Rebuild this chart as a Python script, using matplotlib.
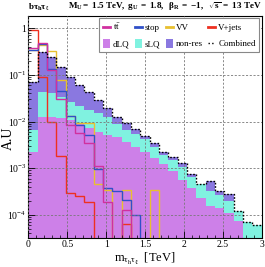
import numpy as np
import matplotlib
matplotlib.use("Agg")
import matplotlib.pyplot as plt
from matplotlib.lines import Line2D
from matplotlib.patches import Patch
from matplotlib.ticker import FixedLocator, FuncFormatter, LogLocator, MultipleLocator, NullFormatter

plt.rcParams['font.family'] = ['Liberation Serif', 'DejaVu Serif']
plt.rcParams['mathtext.fontset'] = 'custom'
plt.rcParams['mathtext.rm'] = 'Liberation Serif'
plt.rcParams['mathtext.it'] = 'Liberation Serif:italic'
plt.rcParams['mathtext.bf'] = 'Liberation Serif:bold'

# ---- data (25 bins, 0-3 TeV) ----
bin_edges = np.linspace(0.0, 3.0, 26)

dLQ = [2.28e-3, 1.26e-2, 1.26e-2, 1.20e-2, 1.09e-2, 8.9e-3, 7.3e-3, 6.1e-3, 5.2e-3, 4.7e-3,
       3.7e-3, 2.9e-3, 2.24e-3, 1.67e-3, 1.24e-3, 8.8e-4, 5.6e-4, 3.8e-4, 2.3e-4, 1.57e-4,
       1.42e-4, 1.11e-4, 7.5e-5, 0, 0]
sLQ = [4.32e-3, 3.07e-2, 2.86e-2, 2.18e-2, 1.59e-2, 1.28e-2, 1.05e-2, 9.0e-3, 7.4e-3, 4.2e-3,
       2.9e-3, 2.6e-3, 2.06e-3, 1.20e-3, 7.0e-4, 6.3e-4, 5.1e-4, 2.8e-4, 2.33e-4, 1.76e-4,
       1.27e-4, 8.3e-5, 4.7e-5, 7.2e-5, 6.1e-5]
nonres = [6.53e-2, 0.268, 0.202, 0.117, 6.52e-2, 3.93e-2, 2.55e-2, 1.41e-2, 7.1e-3, 3.7e-3,
          2.8e-3, 1.3e-3, 6.4e-4, 5.8e-4, 3.4e-4, 2.0e-4, 2.2e-4, 1.0e-4, 0, 2.13e-4,
          6.4e-5, 8.5e-5, 0, 0, 0]

ttbar = [0.37, 0.48, 0.128, 0.03, 8.5e-3, 5.6e-3, 3.5e-3, 1.1e-3, 1.9e-4, 0,
         1.3e-4, 0, 0, 0, 0, 0, 0, 0, 0, 0, 0, 0, 0, 0, 0]
stop = [0.35, 0.46, 0.135, 0.046, 0.013, 8.5e-3, 5.2e-3, 9.5e-4, 3.8e-4, 3.2e-4,
        2.1e-4, 1.0e-4, 0, 0, 0, 0, 0, 0, 0, 0, 0, 0, 0, 0, 0]
VV = [0.34, 0.44, 0.32, 0.078, 0.0129, 9.3e-3, 9.3e-3, 4.6e-4, 3.5e-4, 0,
      3.5e-4, 0, 0, 3.5e-4, 0, 0, 0, 0, 0, 0, 0, 0, 0, 0, 0]
Vjets = [0.92, 0.092, 0.01, 1.8e-3, 3.0e-4, 2.6e-4, 1.86e-4, 0, 0, 0,
         6.3e-5, 0, 0, 0, 0, 0, 0, 0, 0, 0, 0, 0, 0, 0, 0]

x_ticks = [0, 0.5, 1, 1.5, 2, 2.5, 3]
x_ticklabels = ['0', '0.5', '1', '1.5', '2', '2.5', '3']

# ---- colours ----
c_dlq = '#cd80e8'
c_slq = '#80f2e0'
c_nr = '#8a78e0'
c_tt = '#d0309f'
c_stop = '#3050c8'
c_vv = '#e8c030'
c_vj = '#ee3020'

fig = plt.figure(figsize=(2.65, 2.67), dpi=100)
ax = fig.add_axes([0.1075, 0.1086, 0.8793, 0.8314])

tiny = 1e-9
c1 = np.array(dLQ)
c2 = c1 + np.array(sLQ)
c3 = c2 + np.array(nonres)
pos = lambda a: np.maximum(np.asarray(a, dtype=float), tiny)

ax.stairs(pos(c1), bin_edges, baseline=tiny, fill=True, color=c_dlq, lw=0, zorder=1)
ax.stairs(pos(c2), bin_edges, baseline=pos(c1), fill=True, color=c_slq, lw=0, zorder=1)
ax.stairs(pos(c3), bin_edges, baseline=pos(c2), fill=True, color=c_nr, lw=0, zorder=1)

for vals, col in [(Vjets, c_vj), (VV, c_vv), (stop, c_stop), (ttbar, c_tt)]:
    ax.stairs(pos(vals), bin_edges, baseline=None, color=col, lw=1.0, zorder=2)

ax.stairs(pos(c3), bin_edges, baseline=None, color='black', lw=1.0,
          linestyle=(0, (1.2, 1.2)), zorder=3)

ax.set_yscale('log')
ax.set_xlim(0, 3)
ax.set_ylim(3.2e-5, 1.83)

ax.xaxis.set_major_locator(FixedLocator(x_ticks))
ax.set_xticklabels(x_ticklabels)
ax.xaxis.set_minor_locator(MultipleLocator(0.1))
ax.yaxis.set_major_locator(FixedLocator([1e-4, 1e-3, 1e-2, 1e-1, 1]))
ax.yaxis.set_minor_locator(LogLocator(base=10, subs=np.arange(2, 10)))
ax.yaxis.set_minor_formatter(NullFormatter())

def yfmt(v, p):
    e = int(round(np.log10(v)))
    return '1' if e == 0 else r'$10^{%d}$' % e
ax.yaxis.set_major_formatter(FuncFormatter(yfmt))

ax.tick_params(which='both', direction='in', labelsize=7, pad=1.5)
ax.tick_params(which='major', length=5, width=0.6)
ax.tick_params(which='minor', length=2.5, width=0.5)

ax.set_axisbelow(False)
ax.grid(True, which='major', color='#777777', lw=0.6, linestyle=(0, (2.5, 2)))
for s in ax.spines.values():
    s.set_linewidth(0.8)

ax.set_xlabel(r'$\mathrm{m_{\tau_{h}\tau_{\ell}}}$  [TeV]', fontsize=9, labelpad=1)
ax.set_ylabel('A.U', fontsize=10)
ax.yaxis.set_label_coords(-0.057, 0.45)

handles = [Line2D([], [], color=c_tt, lw=2), Patch(facecolor=c_dlq),
           Line2D([], [], color=c_stop, lw=2), Patch(facecolor=c_slq),
           Line2D([], [], color=c_vv, lw=2), Patch(facecolor=c_nr),
           Line2D([], [], color=c_vj, lw=2), Line2D([], [], color='black', lw=1, ls=':')]
labels = [r'$\mathrm{t\bar{t}}$', 'dLQ', 'stop', 'sLQ', 'VV', 'non-res', 'V+jets', 'Combined']
leg = ax.legend(handles, labels, ncol=4, loc='upper right', bbox_to_anchor=(1.0, 1.0),
                fontsize=6.5, frameon=True, fancybox=False, edgecolor='#888888', framealpha=1,
                handlelength=0.8, handleheight=1.2, handletextpad=0.3, columnspacing=0.6,
                borderaxespad=0.25, borderpad=0.4, labelspacing=0.7)
leg.get_frame().set_linewidth(0.8)
leg.set_zorder(5)

fig.text(28 / 265, 1 - 7 / 267, r'$\mathbf{b\tau_{h}\tau_{\ell}}$', fontsize=6.5, ha='left', va='center')
fig.text(262 / 265, 1 - 7 / 267,
         r'$\mathbf{M_{U}{=}\ 1.5\ TeV,\ g_{U}\ {=}\ 1.8,\ \ \beta_{R}\ {=}\ {-}1,\ \ \sqrt{s}\ {=}\ 13\ TeV}$',
         fontsize=6.6, ha='right', va='center')

fig.savefig('out.png', dpi=100)
